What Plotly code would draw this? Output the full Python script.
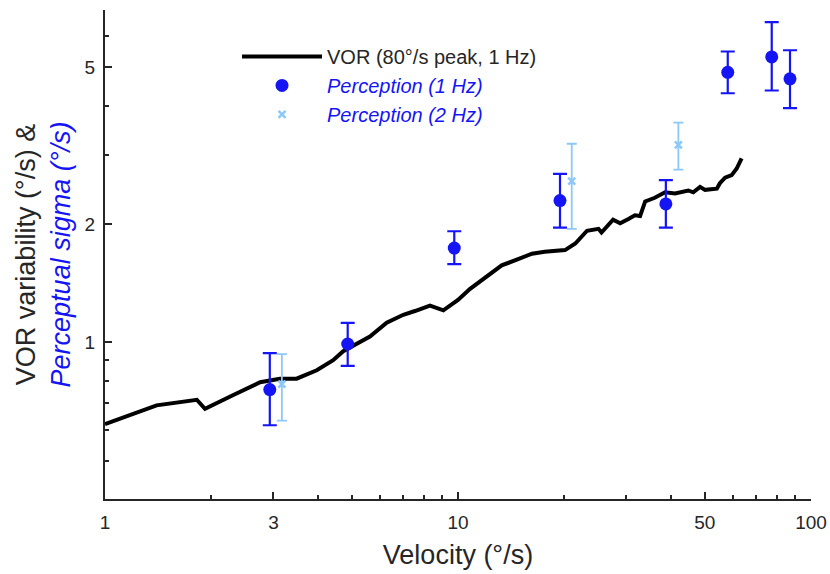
import plotly.graph_objects as go

# VOR variability curve (80 deg/s peak, 1 Hz)
vor_velocity = [1.0, 1.40, 1.82, 1.92, 2.31, 2.75, 3.13, 3.49, 3.98, 4.43, 4.73, 5.05,
                5.63, 6.28, 7.00, 7.55, 8.33, 9.09, 10.0, 10.8, 13.3, 14.8, 16.2, 17.6,
                20.1, 21.5, 23.2, 25.0, 25.5, 27.5, 28.8, 30.4, 31.7, 32.8, 33.9, 36.1,
                38.6, 41.2, 44.9, 46.4, 48.5, 50.1, 54.1, 55.2, 57.1, 59.6, 61.6, 63.6]
vor_sigma = [0.62, 0.692, 0.715, 0.678, 0.735, 0.792, 0.809, 0.809, 0.850, 0.901, 0.950, 0.981,
             1.035, 1.122, 1.176, 1.202, 1.241, 1.207, 1.282, 1.367, 1.570, 1.628, 1.681, 1.700,
             1.717, 1.784, 1.923, 1.945, 1.903, 2.051, 2.008, 2.06, 2.104, 2.095, 2.283, 2.332,
             2.408, 2.393, 2.434, 2.408, 2.486, 2.443, 2.459, 2.539, 2.623, 2.663, 2.767, 2.938]

# perceptual thresholds, 1 Hz
p1_velocity = [2.93, 4.87, 9.76, 19.45, 38.8, 58.1, 77.4, 87.2]
p1_sigma = [0.759, 0.991, 1.737, 2.294, 2.250, 4.86, 5.32, 4.68]
p1_upper = [0.940, 1.122, 1.917, 2.682, 2.586, 5.49, 6.52, 5.53]
p1_lower = [0.616, 0.872, 1.581, 1.958, 1.958, 4.30, 4.37, 3.94]

# perceptual thresholds, 2 Hz
p2_velocity = [3.17, 21.0, 42.1]
p2_sigma = [0.784, 2.57, 3.18]
p2_upper = [0.934, 3.20, 3.62]
p2_lower = [0.633, 1.945, 2.75]

x_ticks = [1, 3, 10, 50, 100]
x_minor = [2, 4, 5, 6, 7, 8, 9, 20, 30, 40, 60, 70, 80, 90]
y_ticks = [1, 2, 5]
y_minor = [0.5, 0.6, 0.7, 0.8, 0.9, 3, 4, 6, 7]

BLUE = "#1414F5"
LIGHT = "#8CC8FA"
GREY = "#262626"
FONT = "Liberation Sans, Arial, sans-serif"

fig = go.Figure()

fig.add_trace(go.Scatter(
    x=vor_velocity, y=vor_sigma, mode="lines",
    line=dict(color="black", width=4),
    name="VOR (80°/s peak, 1 Hz)"))

fig.add_trace(go.Scatter(
    x=p1_velocity, y=p1_sigma, mode="markers",
    marker=dict(color=BLUE, size=13),
    error_y=dict(type="data", symmetric=False,
                 array=[u - s for u, s in zip(p1_upper, p1_sigma)],
                 arrayminus=[s - l for s, l in zip(p1_sigma, p1_lower)],
                 color=BLUE, thickness=2.2, width=7),
    name=f"<i><span style='color:{BLUE}'>Perception (1 Hz)</span></i>"))

fig.add_trace(go.Scatter(
    x=p2_velocity, y=p2_sigma, mode="markers",
    marker=dict(color=LIGHT, size=7, symbol="x-thin-open", line=dict(color=LIGHT, width=2.5)),
    error_y=dict(type="data", symmetric=False,
                 array=[u - s for u, s in zip(p2_upper, p2_sigma)],
                 arrayminus=[s - l for s, l in zip(p2_sigma, p2_lower)],
                 color=LIGHT, thickness=1.8, width=5),
    name=f"<i><span style='color:{BLUE}'>Perception (2 Hz)</span></i>"))

axis_common = dict(
    showline=True, linecolor=GREY, linewidth=2, mirror=False,
    showgrid=False, zeroline=False, automargin=False,
    ticks="inside", ticklen=7, tickwidth=1.5, tickcolor=GREY,
    tickfont=dict(size=19, color=GREY, family=FONT),
    tickmode="array",
)

fig.update_xaxes(
    type="log", range=[0, 2],
    tickvals=x_ticks, ticktext=[str(v) for v in x_ticks],
    ticklabelstandoff=5,
    minor=dict(tickmode="array", tickvals=x_minor, ticks="inside", ticklen=4,
               tickwidth=1.5, tickcolor=GREY),
    title=dict(text="Velocity (°/s)", font=dict(size=27, color=GREY, family=FONT), standoff=13),
    **axis_common)

fig.update_yaxes(
    type="log", range=[-0.39794, 0.845098],
    tickvals=y_ticks, ticktext=[str(v) for v in y_ticks],
    ticklabelstandoff=4,
    minor=dict(tickmode="array", tickvals=y_minor, ticks="inside", ticklen=4,
               tickwidth=1.5, tickcolor=GREY),
    title=dict(text=f"VOR variability (°/s) &<br><i><span style='color:{BLUE}'>Perceptual sigma (°/s)</span></i>",
               font=dict(size=27, color=GREY, family=FONT), standoff=6),
    **axis_common)

fig.update_layout(
    width=830, height=574,
    margin=dict(l=105, r=19, t=10, b=75),
    paper_bgcolor="white", plot_bgcolor="white",
    font=dict(family=FONT, color=GREY),
    showlegend=True,
    legend=dict(x=0.187, y=0.945, xanchor="left", yanchor="top", itemwidth=80,
                bgcolor="rgba(0,0,0,0)", font=dict(size=20, color=GREY, family=FONT),
                tracegroupgap=0),
)

fig.write_html("out.html", config={"displayModeBar": False},
               post_script="document.body.style.margin='0';")
